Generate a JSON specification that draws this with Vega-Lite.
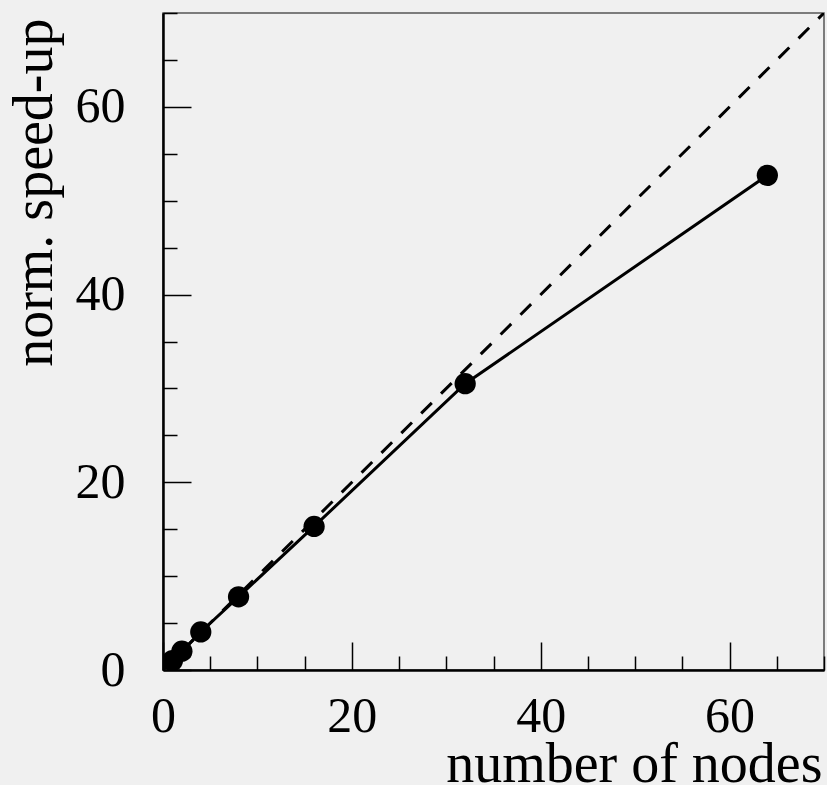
{
  "$schema": "https://vega.github.io/schema/vega-lite/v6.json",
  "width": 661,
  "height": 657,
  "autosize": {"type": "none"},
  "padding": {"left": 163, "top": 13, "right": 3, "bottom": 115},
  "background": "#f0f0f0",
  "config": {
    "view": {"stroke": "#555555", "strokeWidth": 1.5},
    "axis": {
      "grid": false,
      "labelFont": "Liberation Serif",
      "titleFont": "Liberation Serif",
      "labelColor": "black",
      "titleColor": "black",
      "titleFontWeight": "normal",
      "domainColor": "black",
      "domainWidth": 2,
      "tickColor": "black",
      "tickWidth": 1.5,
      "labelFlush": false,
      "labelOverlap": false
    }
  },
  "resolve": {"axis": {"x": "independent", "y": "independent"}},
  "layer": [
    {
      "data": {"values": [{"nodes": 0, "speedup": 0}, {"nodes": 70, "speedup": 70}]},
      "mark": {"type": "line", "strokeDash": [15, 13], "strokeWidth": 3, "color": "black", "clip": true},
      "encoding": {
        "x": {
          "field": "nodes", "type": "quantitative",
          "scale": {"domain": [0, 70], "nice": false},
          "axis": {
            "orient": "bottom", "values": [0, 20, 40, 60], "tickSize": -28,
            "labelPadding": 89, "labelBaseline": "alphabetic", "labelFontSize": 50,
            "title": "number of nodes", "titleFontSize": 56, "titleAlign": "right",
            "titleBaseline": "alphabetic", "titleX": 659, "titleY": 111
          }
        },
        "y": {
          "field": "speedup", "type": "quantitative",
          "scale": {"domain": [0, 70], "nice": false},
          "axis": {
            "orient": "left", "values": [0, 20, 40, 60], "tickSize": -28,
            "labelPadding": 66, "labelBaseline": "middle", "labelFontSize": 50,
            "title": "norm. speed-up", "titleFontSize": 56, "titleAngle": -90,
            "titleAlign": "right", "titleBaseline": "alphabetic", "titleX": -112, "titleY": 5
          }
        }
      }
    },
    {
      "data": {"values": [
        {"nodes": 1, "speedup": 1.0},
        {"nodes": 2, "speedup": 2.0},
        {"nodes": 4, "speedup": 4.05},
        {"nodes": 8, "speedup": 7.8},
        {"nodes": 16, "speedup": 15.3},
        {"nodes": 32, "speedup": 30.5},
        {"nodes": 64, "speedup": 52.7}
      ]},
      "encoding": {
        "x": {
          "field": "nodes", "type": "quantitative",
          "scale": {"domain": [0, 70], "nice": false},
          "axis": {
            "orient": "bottom", "values": [5, 10, 15, 25, 30, 35, 45, 50, 55, 65, 70],
            "tickSize": -14, "labels": false, "title": null
          }
        },
        "y": {
          "field": "speedup", "type": "quantitative",
          "scale": {"domain": [0, 70], "nice": false},
          "axis": {
            "orient": "left", "values": [5, 10, 15, 25, 30, 35, 45, 50, 55, 65, 70],
            "tickSize": -14, "labels": false, "title": null
          }
        }
      },
      "layer": [
        {"mark": {"type": "line", "strokeWidth": 3, "color": "black", "clip": true}},
        {"mark": {"type": "point", "filled": true, "size": 452, "color": "black", "opacity": 1, "clip": true}}
      ]
    }
  ]
}
